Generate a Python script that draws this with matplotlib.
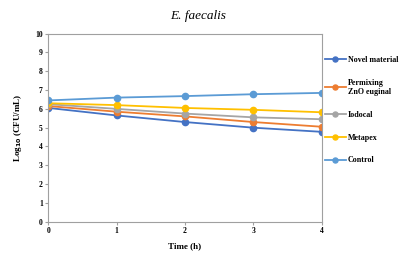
import matplotlib
matplotlib.use("Agg")
import matplotlib.pyplot as plt

time_h = [0, 1, 2, 3, 4]
novel = [6.05, 5.65, 5.30, 5.00, 4.78]
permixing = [6.15, 5.85, 5.60, 5.30, 5.05]
iodocal = [6.25, 6.00, 5.75, 5.55, 5.45]
metapex = [6.30, 6.20, 6.05, 5.95, 5.82]
control = [6.45, 6.60, 6.68, 6.78, 6.85]
labels = ["Novel material", "Permixing\nZnO euginal", "Iodocal", "Metapex", "Control"]
colors = ["#4472C4", "#ED7D31", "#A5A5A5", "#FFC000", "#5B9BD5"]

plt.rcParams['font.family'] = ['Liberation Serif', 'DejaVu Serif']

fig = plt.figure(figsize=(4, 2.59), dpi=100)
ax = fig.add_axes([0.121, 0.144, 0.683, 0.726])

for vals, lab, c in zip([novel, permixing, iodocal, metapex, control], labels, colors):
    ax.plot(time_h, vals, color=c, marker='o', markersize=4.5, linewidth=1.3, label=lab)

ax.set_xlim(0, 4)
ax.set_ylim(0, 10)
ax.set_xticks(time_h)
ax.set_yticks(range(0, 11))
for s in ax.spines.values():
    s.set_color('#A0A0A0')
    s.set_linewidth(0.8)
ax.tick_params(axis='both', labelsize=5.5, length=2, color='#A0A0A0', pad=2)
for t in ax.get_xticklabels() + ax.get_yticklabels():
    t.set_fontweight('bold')

ax.set_xlabel("Time (h)", fontsize=6.5, fontweight='bold', labelpad=5)
ax.set_ylabel(r"Log$_{\mathbf{10}}$ (CFU/mL)", fontsize=6.5, fontweight='bold', labelpad=8)
fig.text(0.495, 0.94, "E. faecalis", ha='center', va='center', fontsize=9.5, style='italic')

leg = fig.legend(loc='upper left', bbox_to_anchor=(0.812, 0.785), frameon=False,
                 prop={'size': 5.8, 'weight': 'bold'}, labelspacing=1.85,
                 handlelength=2.6, handletextpad=0.25, borderaxespad=0, borderpad=0,
                 markerscale=0.8)

fig.savefig("out.png", dpi=100)
